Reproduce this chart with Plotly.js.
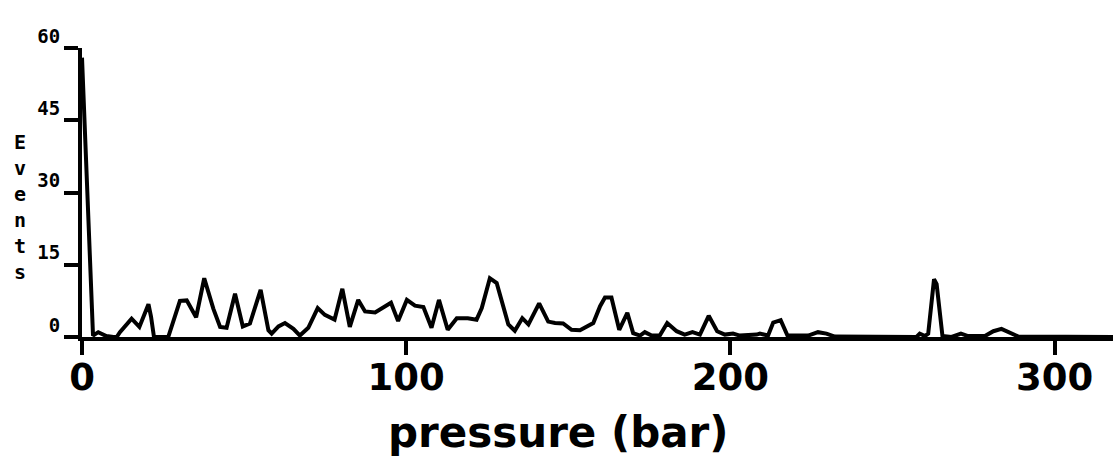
<!DOCTYPE html>
<html>
<head>
<meta charset="utf-8">
<script src="https://cdn.plot.ly/plotly-3.0.1.min.js"></script>
<style>
  html, body { margin: 0; padding: 0; background: #fff; }
  #chart { width: 1119px; height: 469px; }
</style>
</head>
<body>
<div id="chart"></div>
<script>
// Pressure (bar) sample positions
const pressure = [0, 3.4, 5.0, 7.5, 9.7, 10.7, 11.7, 15.3, 17.7, 20.5, 21.3, 22.2, 26.6, 27.1, 30.2, 32.3, 35.2, 37.7, 40.5, 42.6,
  44.6, 47.2, 49.6, 51.8, 55.1, 57.5, 58.5, 60.6, 62.6, 65.2, 67.2, 69.8, 72.7, 74.9, 77.9, 80.3, 82.6, 85.2, 87.3, 90.4,
  92.9, 95.3, 97.5, 100.2, 102.7, 105.3, 107.8, 110.1, 112.8, 115.6, 119.0, 121.7, 123.3, 125.8, 127.9, 130.0, 131.5, 133.5, 135.8, 137.7,
  141.0, 143.8, 145.9, 148.4, 151.0, 153.6, 157.7, 159.8, 161.3, 163.3, 165.7, 168.2, 170.0, 172.1, 173.6, 175.7, 178.2, 180.5, 183.4, 185.9,
  188.3, 190.6, 193.3, 195.9, 198.3, 200.8, 202.9, 208.1, 209.1, 211.6, 213.2, 215.5, 217.6, 224.0, 227.0, 229.6, 232.2, 257.4, 258.4, 260.0,
  261.0, 262.8, 263.6, 265.4, 268.2, 271.1, 273.3, 278.5, 281.1, 283.6, 286.7, 288.8, 318];

// Event counts
const events = [58, 0.3, 1.0, 0.2, 0, 0, 1.0, 3.8, 2.1, 6.8, 4.2, 0, 0, 1.0, 7.5, 7.6, 4.1, 12.2, 5.9, 2.1,
  1.9, 9.0, 2.2, 2.8, 9.8, 1.4, 0.7, 2.2, 2.9, 1.7, 0.3, 1.9, 6.0, 4.6, 3.6, 10.0, 2.1, 7.7, 5.3, 5.1,
  6.2, 7.1, 3.3, 7.7, 6.5, 6.2, 1.9, 7.7, 1.5, 3.9, 3.9, 3.6, 6.0, 12.2, 11.2, 5.7, 2.6, 1.3, 3.9, 2.6,
  7.0, 3.2, 2.9, 2.8, 1.5, 1.4, 2.9, 6.4, 8.2, 8.2, 1.5, 5.0, 0.8, 0.3, 1.0, 0.3, 0.3, 2.9, 1.2, 0.5,
  1.0, 0.5, 4.4, 1.2, 0.5, 0.7, 0.3, 0.5, 0.7, 0.3, 3.0, 3.5, 0.3, 0.3, 1.0, 0.7, 0.1, 0, 0.7, 0.2,
  0.7, 12.0, 11.0, 0.2, 0, 0.7, 0.2, 0.2, 1.2, 1.7, 0.7, 0.1, 0];

const xTicks = [0, 100, 200, 300];
const xTickLabels = ["0", "100", "200", "300"];
const yTicks = [0, 15, 30, 45, 60];
const yTickLabels = ["0", "15", "30", "45", "60"];
const xTitle = "pressure (bar)";
const yTitleLetters = ["E", "v", "e", "n", "t", "s"];

const trace = {
  x: pressure,
  y: events,
  type: "scatter",
  mode: "lines",
  line: { color: "#000", width: 4 },
  cliponaxis: false,
  hoverinfo: "skip"
};

const layout = {
  width: 1119,
  height: 469,
  margin: { l: 82, r: 6, t: 48, b: 132, pad: 0 },
  paper_bgcolor: "#fff",
  plot_bgcolor: "#fff",
  showlegend: false,
  xaxis: {
    range: [0, 318],
    tickmode: "array",
    tickvals: xTicks,
    ticktext: xTickLabels,
    ticks: "outside",
    ticklen: 14,
    tickwidth: 4,
    tickcolor: "#000",
    showline: true,
    linewidth: 4,
    linecolor: "#000",
    showgrid: false,
    zeroline: false,
    ticklabelstandoff: -9,
    tickfont: { family: "DejaVu Sans", size: 37, color: "#000", weight: "bold" }
  },
  yaxis: {
    range: [0, 60],
    tickmode: "array",
    tickvals: yTicks,
    ticktext: yTickLabels,
    ticks: "outside",
    ticklen: 14,
    tickwidth: 4,
    tickcolor: "#000",
    showline: true,
    linewidth: 4,
    linecolor: "#000",
    showgrid: false,
    zeroline: false,
    ticklabelshift: -12,
    tickfont: { family: "DejaVu Sans Mono", size: 19, color: "#000", weight: "bold" }
  },
  annotations: [
    {
      text: xTitle,
      xref: "paper", yref: "paper",
      x: 0.4617, y: -0.332,
      xanchor: "center", yanchor: "middle",
      showarrow: false,
      font: { family: "DejaVu Sans", size: 42, color: "#000", weight: "bold" }
    },
    {
      text: yTitleLetters.join("<br>"),
      xref: "paper", yref: "paper",
      x: -0.0600, y: 0.45,
      xanchor: "center", yanchor: "middle",
      showarrow: false,
      font: { family: "DejaVu Sans Mono", size: 20, color: "#000", weight: "bold" }
    }
  ]
};

Plotly.newPlot("chart", [trace], layout, { displayModeBar: false, staticPlot: true });
</script>
</body>
</html>
